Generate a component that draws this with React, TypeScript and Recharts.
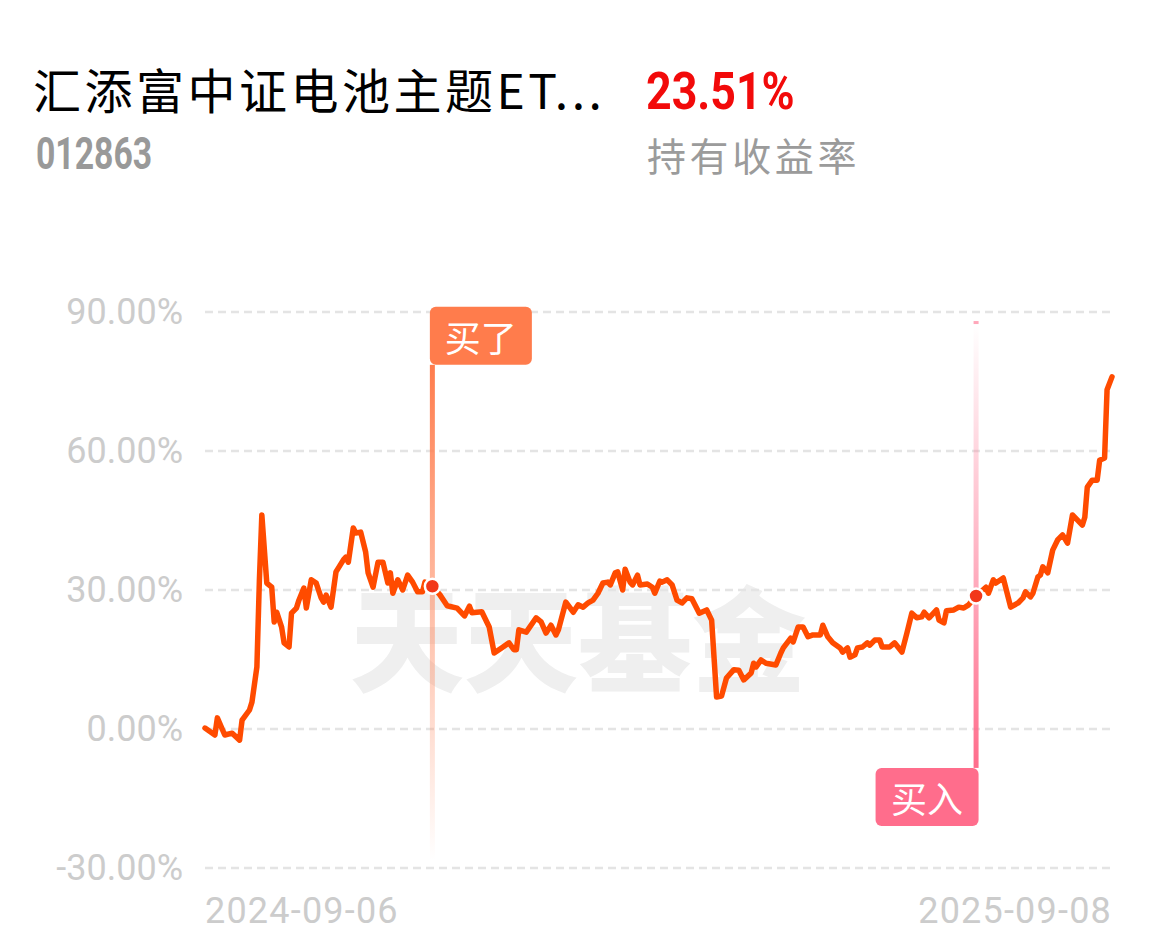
import React from "react";
import { LineChart, Line, XAxis, YAxis, CartesianGrid, ReferenceLine } from "recharts";

// days since 2024-09-06
const days = [
  0, 4, 5, 8, 11, 14, 15, 18, 19, 21,
  22, 23, 25, 27, 28, 29, 31, 32, 34, 35,
  37, 38, 40, 41, 43, 45, 47, 48, 49, 51,
  53, 56, 57, 58, 60, 61, 63, 65, 66, 68,
  70, 72, 74, 75, 76, 78, 80, 82, 84, 86,
  88, 89, 92, 95, 98, 102, 105, 107, 108, 112,
  115, 117, 120, 123, 125, 126, 127, 130, 134, 136,
  138, 140, 142, 143, 146, 149, 151, 153, 155, 157,
  159, 161, 163, 164, 166, 167, 169, 170, 172, 173,
  175, 176, 179, 181, 182, 184, 185, 187, 189, 191,
  193, 195, 197, 200, 203, 205, 207, 209, 211, 214,
  216, 218, 221, 222, 223, 225, 227, 231, 233, 234,
  237, 238, 240, 242, 244, 246, 249, 250, 252, 254,
  257, 258, 260, 261, 263, 264, 266, 268, 269, 271,
  273, 274, 277, 279, 282, 284, 286, 288, 290, 291,
  293, 296, 297, 299, 300, 303, 305, 307, 309, 312,
  316, 317, 319, 320, 323, 326, 329, 331, 332, 334,
  335, 337, 338, 339, 341, 343, 345, 347, 349, 351,
  355, 356, 357, 359, 361, 362, 364, 365, 367,
];

// holding return, %
const returns = [
  0.2, -1.3, 2.4, -1.3, -0.9, -2.4, 1.9, 4.1, 5.8, 13.4,
  32, 46.2, 31.5, 30.6, 23.1, 25.2, 22, 18.6, 17.7, 25,
  26.1, 27.8, 30.4, 26.1, 32.2, 31.5, 28.3, 27.4, 28.9, 26.3,
  33.9, 36.5, 37.1, 36, 43.4, 42.3, 42.5, 38.2, 33.7, 30.6,
  36, 36, 31.5, 33.7, 29.3, 32.2, 30, 33.2, 31.7, 29.6,
  29.6, 31.7, 30.8, 29.0, 26.6, 26.1, 24.4, 26.5, 25.1, 25.3,
  22, 16.4, 17.5, 18.6, 17.1, 17.1, 21.4, 20.9, 24, 23.1,
  20.7, 22.4, 20.3, 21.4, 27.4, 25.2, 26.8, 26.3, 27.2, 27.8,
  29.3, 31.5, 31.7, 31.1, 33.7, 33.9, 30, 34.5, 31.7, 31.1,
  33.2, 31.1, 31.3, 30.6, 29.3, 31.9, 31.7, 32.2, 31.1, 27.8,
  27.2, 28.3, 28.1, 25, 25.7, 23.5, 6.9, 7.1, 11, 12.8,
  12.7, 10.6, 12.1, 14.2, 13.4, 14.9, 14.2, 13.8, 16.4, 17.5,
  19.6, 18.8, 22, 22, 19.9, 20.3, 20.3, 22.4, 19.9, 18.6,
  17.5, 16.6, 17.5, 15.5, 16, 17.5, 17.7, 18.6, 18.1, 19.2,
  19.2, 17.7, 17.7, 18.6, 16.6, 20.7, 25, 24, 24.2, 25.2,
  24, 25.7, 23.5, 22.9, 25.5, 25.7, 26.3, 26.1, 26.8, 28.7,
  30.6, 29.3, 32.2, 31.5, 32.6, 26.3, 27.2, 28.3, 29.6, 28.5,
  29.3, 32.8, 33.2, 35, 33.7, 38.6, 40.8, 41.9, 40.1, 46.2,
  44, 45.7, 52.2, 53.7, 53.7, 58, 58.5, 73.2, 76,
];

const xTicks = [0, 367];
const xTickLabels = ["2024-09-06", "2025-09-08"];
const yTicks = [-30, 0, 30, 60, 90];
const buyDays = [92, 312];
const buyLabels = ["买了", "买入"];

const data = days.map((d, i) => ({ day: d, value: returns[i] }));

const LINE = "#ff4b00";
const TICK = "#cccccc";
const CJK = '"Noto Sans CJK SC", sans-serif';

function YTick(props: any) {
  const { x, y, payload } = props;
  return (
    <text x={x} y={y} textAnchor="end" dominantBaseline="central" fill={TICK} fontSize={36} fontFamily="Roboto">
      {payload.value.toFixed(2)}%
    </text>
  );
}

function XTick(props: any) {
  const { x, y, payload } = props;
  const i = xTicks.indexOf(payload.value);
  return (
    <text x={x} y={y} dy="0.71em" textAnchor={i === 0 ? "start" : "end"} fill={TICK} fontSize={36} letterSpacing={1.2} fontFamily="Roboto">
      {xTickLabels[i]}
    </text>
  );
}

// vertical flag, box on top
const topFlag = (p: any) => {
  const top = Math.min(p.y1, p.y2);
  const bottom = Math.max(p.y1, p.y2);
  const x = p.x1;
  return (
    <g>
      <rect x={x - 2.5} y={top} width={5} height={bottom - top} fill="url(#sellGrad)" />
      <rect x={x - 2.5} y={top - 58} width={102} height={58} rx={6} fill="#ff7c4c" />
      <text x={x - 2.5 + 51} y={top - 29} textAnchor="middle" dominantBaseline="central" fill="#fff" fontSize={36} fontFamily={CJK}>
        {buyLabels[0]}
      </text>
    </g>
  );
};

// vertical flag, box at the bottom
const bottomFlag = (p: any) => {
  const top = Math.min(p.y1, p.y2);
  const bottom = Math.max(p.y1, p.y2);
  const x = p.x1;
  return (
    <g>
      <rect x={x - 2.5} y={top - 3} width={5} height={3} fill="#ff6d8c" opacity={0.6} />
      <rect x={x - 2.5} y={top} width={5} height={bottom - top} fill="url(#buyGrad)" />
      <rect x={x + 2.5 - 103} y={bottom} width={103} height={58} rx={6} fill="#ff6d8c" />
      <text x={x + 2.5 - 51.5} y={bottom + 29} textAnchor="middle" dominantBaseline="central" fill="#fff" fontSize={36} fontFamily={CJK}>
        {buyLabels[1]}
      </text>
    </g>
  );
};

const renderDot = (p: any) => {
  if (!buyDays.includes(p.payload.day)) return <g key={`d${p.index}`} />;
  return <circle key={`d${p.index}`} cx={p.cx} cy={p.cy} r={7.5} fill="#f2381a" stroke="#fff" strokeWidth={2.5} />;
};

export default function App() {
  return (
    <div style={{ position: "absolute", left: 0, top: 0, width: 1162, height: 951, background: "#fff", overflow: "hidden" }}>
      <div style={{ position: "absolute", left: 33, top: 64, fontSize: 48, lineHeight: "48px", letterSpacing: 3.5, color: "#000", fontFamily: CJK, whiteSpace: "nowrap" }}>
        汇添富中证电池主题ET...
      </div>
      <div style={{ position: "absolute", left: 36, top: 131, fontSize: 45, lineHeight: "45px", fontWeight: 700, color: "#999", fontFamily: "Roboto", transform: "scaleX(0.75)", transformOrigin: "left top" }}>
        012863
      </div>
      <div style={{ position: "absolute", left: 646, top: 66, fontSize: 52, lineHeight: "52px", fontWeight: 700, color: "#f20a0a", fontFamily: "Roboto", transform: "scaleX(0.86)", transformOrigin: "left top" }}>
        23.51%
      </div>
      <div style={{ position: "absolute", left: 647, top: 135, fontSize: 39, lineHeight: "39px", letterSpacing: 3.6, color: "#9b9b9b", fontFamily: CJK, whiteSpace: "nowrap" }}>
        持有收益率
      </div>
      <div style={{ position: "absolute", left: 350, top: 577, fontSize: 114, lineHeight: "114px", fontWeight: 900, color: "#efefef", fontFamily: CJK, whiteSpace: "nowrap" }}>
        天天基金
      </div>
      <div style={{ position: "absolute", left: 0, top: 0 }}>
        <LineChart width={1162} height={951} data={data} margin={{ top: 312, right: 50, bottom: 0, left: 0 }}>
          <defs>
            <linearGradient id="sellGrad" x1="0" y1="0" x2="0" y2="1">
              <stop offset="0" stopColor="#ff7c4c" stopOpacity={1} />
              <stop offset="0.5" stopColor="#ff8a60" stopOpacity={0.55} />
              <stop offset="1" stopColor="#ff8a60" stopOpacity={0} />
            </linearGradient>
            <linearGradient id="buyGrad" x1="0" y1="0" x2="0" y2="1">
              <stop offset="0" stopColor="#ff6d8c" stopOpacity={0} />
              <stop offset="1" stopColor="#ff6d8c" stopOpacity={1} />
            </linearGradient>
          </defs>
          <CartesianGrid vertical={false} stroke="#e4e4e4" strokeDasharray="8 5" strokeWidth={2.5} />
          <XAxis
            dataKey="day"
            type="number"
            domain={[0, 367]}
            ticks={xTicks}
            interval={0}
            axisLine={false}
            tickLine={false}
            tick={XTick}
            height={83}
            tickMargin={23}
          />
          <YAxis
            type="number"
            domain={[-30, 90]}
            ticks={yTicks}
            axisLine={false}
            tickLine={false}
            tick={YTick}
            width={205}
            tickMargin={16}
          />
          <ReferenceLine
            segment={[{ x: buyDays[0], y: 78.6 }, { x: buyDays[0], y: -28.3 }]}
            shape={topFlag}
            ifOverflow="visible"
          />
          <ReferenceLine
            segment={[{ x: buyDays[1], y: 87.4 }, { x: buyDays[1], y: -8.4 }]}
            shape={bottomFlag}
            ifOverflow="visible"
          />
          <Line
            type="linear"
            dataKey="value"
            stroke={LINE}
            strokeWidth={5.5}
            strokeLinejoin="round"
            strokeLinecap="round"
            dot={renderDot}
            activeDot={false}
            isAnimationActive={false}
          />
        </LineChart>
      </div>
    </div>
  );
}
